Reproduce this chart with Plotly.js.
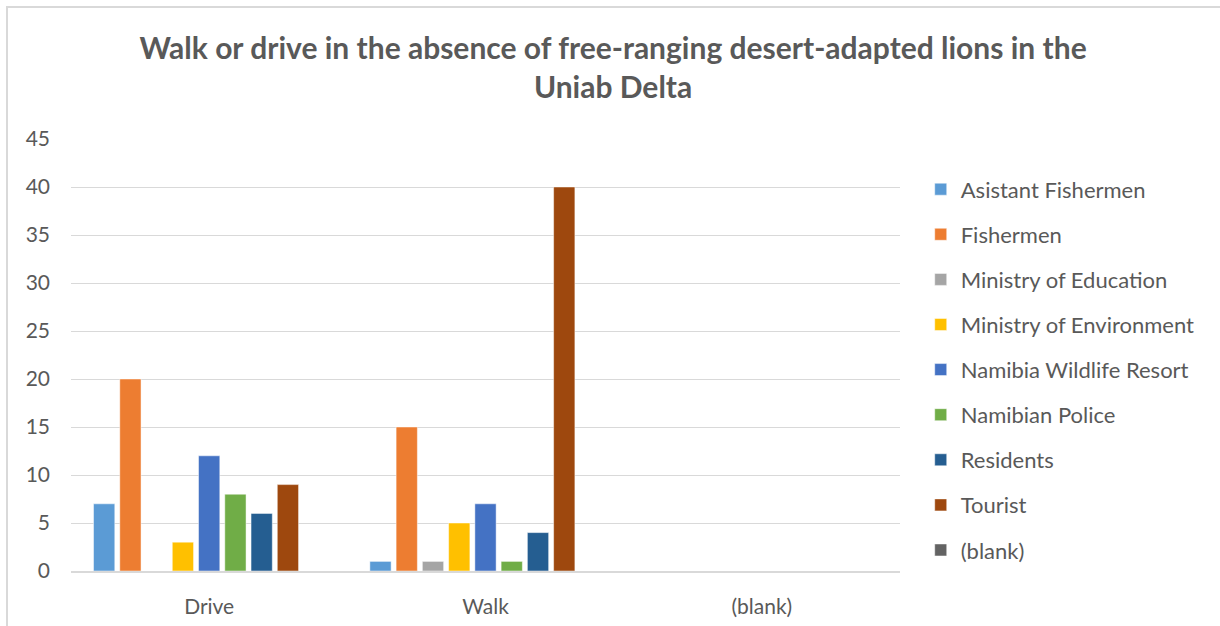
<!DOCTYPE html>
<html>
<head>
<meta charset="utf-8">
<script src="https://cdn.plot.ly/plotly-3.0.1.min.js"></script>
<style>
html,body{margin:0;padding:0;background:#fff;}
#wrap{position:relative;width:1220px;height:626px;}
#chart{width:1220px;height:626px;}
#frame{position:absolute;left:6px;top:6px;width:1214px;height:620px;border-left:2px solid #d9d9d9;border-top:2px solid #d9d9d9;pointer-events:none;}
</style>
</head>
<body>
<div id="wrap"><div id="chart"></div><div id="frame"></div></div>
<script>
const categories = ["Drive", "Walk", "(blank)"];
const seriesNames = ["Asistant Fishermen", "Fishermen", "Ministry of Education", "Ministry of Environment", "Namibia Wildlife Resort", "Namibian Police", "Residents", "Tourist", "(blank)"];
const asistantFishermen = [7, 1, null];
const fishermen = [20, 15, null];
const ministryEducation = [null, 1, null];
const ministryEnvironment = [3, 5, null];
const namibiaWildlifeResort = [12, 7, null];
const namibianPolice = [8, 1, null];
const residents = [6, 4, null];
const tourist = [9, 40, null];
const blankSeries = [null, null, null];
const seriesValues = [asistantFishermen, fishermen, ministryEducation, ministryEnvironment, namibiaWildlifeResort, namibianPolice, residents, tourist, blankSeries];
const colors = ["#5B9BD5", "#ED7D31", "#A5A5A5", "#FFC000", "#4472C4", "#70AD47", "#255E91", "#9E480E", "#636363"];
const yTicks = [0, 5, 10, 15, 20, 25, 30, 35, 40, 45];

const font = "Lato, 'Open Sans', sans-serif";
const traces = seriesNames.map((name, i) => ({
  type: "bar",
  name: name,
  x: categories,
  y: seriesValues[i],
  legendgroup: "g" + i,
  marker: {color: colors[i], line: {color: "rgba(255,255,255,0.6)", width: 0.8}},
  hoverinfo: "x+y+name"
}));

const layout = {
  width: 1220, height: 626,
  margin: {l: 71, r: 320, t: 139, b: 55},
  paper_bgcolor: "#ffffff",
  plot_bgcolor: "#ffffff",
  font: {family: font, color: "#595959", size: 20},
  title: {
    text: "<b>Walk or drive in the absence of free-ranging desert-adapted lions in the<br>Uniab Delta</b>",
    font: {family: font, size: 30, color: "#595959"},
    x: 0.5025, xref: "container", xanchor: "center",
    y: 0.905, yref: "container", yanchor: "top"
  },
  barmode: "group",
  bargap: 0.145,
  bargroupgap: 0.19,
  xaxis: {
    type: "category",
    categoryorder: "array",
    categoryarray: categories,
    range: [-0.5, 2.5],
    showgrid: false,
    showline: true,
    linecolor: "#d9d9d9",
    linewidth: 1.5,
    ticks: "",
    ticklabelstandoff: 16,
    tickfont: {family: font, size: 21, color: "#595959"},
    fixedrange: true
  },
  yaxis: {
    range: [0, 45],
    tickvals: yTicks,
    ticktext: yTicks.map(String),
    showgrid: true,
    gridcolor: "#d9d9d9",
    gridwidth: 1.3,
    zeroline: false,
    showline: false,
    ticks: "",
    ticklabelstandoff: 20,
    tickfont: {family: font, size: 21, color: "#595959"},
    fixedrange: true
  },
  legend: {
    x: 1.025, xanchor: "left",
    y: 0.932, yanchor: "top",
    font: {family: font, size: 22, color: "#595959"},
    tracegroupgap: 13.5,
    itemclick: false,
    bgcolor: "rgba(0,0,0,0)"
  },
  showlegend: true
};

Plotly.newPlot("chart", traces, layout, {displayModeBar: false, staticPlot: false});
</script>
</body>
</html>
